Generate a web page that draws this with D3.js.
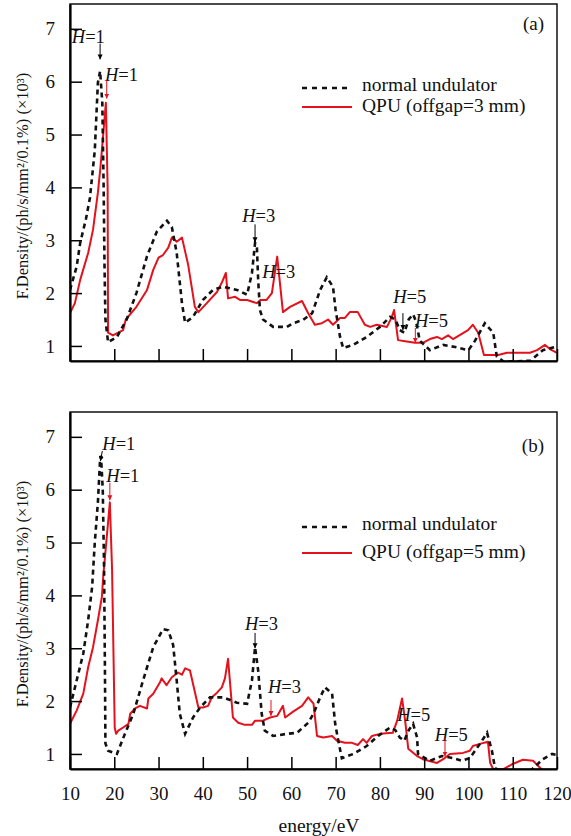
<!DOCTYPE html>
<html>
<head>
<meta charset="utf-8">
<script src="https://cdn.jsdelivr.net/npm/d3@7"></script>
<style>
  body { margin: 0; background: #fff; }
</style>
</head>
<body>
<script>
const W = 571, H = 836;
const FONT = "Liberation Serif";

// energy (eV) vs flux density (x10^3)
const normalA = [[10,2.06],[11.5,2.5],[12.3,2.95],[13.6,3.4],[14.5,3.8],[15.6,4.7],[16.3,5.98],[16.8,6.2],[17.3,5.6],[17.6,4.0],[17.8,2.5],[18.0,1.5],[18.6,1.07],[20.6,1.17],[22.8,1.5],[25,2.0],[27.4,2.7],[29.6,3.16],[31.9,3.37],[33,3.25],[34.1,2.76],[35.3,1.8],[36,1.44],[37.8,1.55],[40,1.87],[42.3,2.06],[44.6,2.12],[47.7,2.06],[50,1.97],[51.1,2.38],[51.8,2.95],[52.2,2.9],[52.5,2.25],[52.9,1.68],[53.6,1.5],[55.9,1.36],[59,1.36],[60.4,1.43],[62.6,1.49],[64.7,1.62],[66.5,2.06],[68,2.3],[69.4,2.12],[70,1.68],[71,1.17],[71.7,0.96],[74,1.02],[77,1.17],[80,1.36],[82.3,1.55],[83.5,1.5],[84.5,1.3],[85.5,1.25],[86.5,1.5],[87.5,1.6],[88.2,1.45],[89,1.1],[91.3,0.92],[94.3,1.02],[97,0.98],[100,0.92],[101.5,1.1],[103.7,1.43],[105.6,1.25],[106.4,0.8],[108,0.7],[114,0.72],[116.8,0.92],[119.5,0.98],[120,0.95]];

const qpuA = [[10,1.62],[11.1,1.81],[12.3,2.25],[14.1,2.76],[15.2,3.2],[16.3,3.9],[16.9,4.4],[17.9,5.4],[18.1,5.6],[18.5,4.0],[18.6,1.25],[19.7,1.2],[22,1.3],[22.6,1.5],[25,1.74],[27.4,2.06],[28.8,2.44],[30,2.67],[31,2.72],[32.2,2.86],[33,3.05],[34.1,2.97],[35.3,3.05],[36.7,2.53],[38.2,1.74],[39,1.64],[40.9,1.81],[43.2,2.02],[44.3,2.2],[45.2,2.38],[45.7,1.9],[47.3,1.93],[48.4,1.87],[50,1.87],[52.2,1.81],[53,1.87],[54.4,1.87],[55.6,2.0],[56.8,2.69],[58.1,1.64],[59.7,1.74],[62.4,1.85],[63.8,1.62],[65.3,1.4],[66.9,1.43],[68.3,1.5],[69.4,1.4],[71,1.53],[72.1,1.53],[73.2,1.64],[75,1.64],[76.6,1.4],[77.8,1.36],[79.3,1.4],[81.6,1.36],[82.7,1.55],[83.2,1.68],[84.1,1.11],[85.7,1.09],[87.9,1.06],[89.7,1.06],[91.3,1.13],[92.9,1.17],[94,1.13],[95.4,1.2],[96.5,1.13],[98.5,1.23],[99.9,1.3],[101,1.4],[102.2,1.25],[103.5,0.83],[106.7,0.83],[108.7,0.87],[113.9,0.87],[115.5,0.92],[117.3,1.02],[118.4,0.94],[120,0.87]];

const normalB = [[10,1.88],[11.5,2.39],[13,2.9],[14.1,3.53],[15,4.16],[15.6,5.0],[16.3,5.76],[16.8,6.58],[17,6.64],[17.4,6.0],[17.7,4.5],[17.9,2.5],[18.0,1.2],[18.6,1.06],[20.6,1.0],[22.4,1.38],[24.3,1.76],[26.5,2.39],[28.8,3.02],[31,3.36],[32.2,3.34],[33.3,3.06],[34.1,2.39],[34.8,1.76],[36,1.38],[37.8,1.69],[39.4,1.88],[41.6,2.07],[44.6,2.07],[47.7,1.97],[50,1.95],[51.1,2.39],[51.8,3.02],[52.5,2.58],[53.3,1.76],[54,1.44],[55.9,1.34],[59,1.38],[61.3,1.4],[63.8,1.59],[65,1.76],[66.5,2.07],[67.6,2.26],[69.2,2.14],[69.9,1.57],[70.6,1.25],[71.4,0.92],[74,1.0],[77,1.15],[79.6,1.34],[82.3,1.5],[83.5,1.45],[84.5,1.31],[85.5,1.25],[86.5,1.45],[87.5,1.57],[88.4,1.31],[88.6,1.0],[91.3,0.87],[94,0.96],[96.5,0.92],[98.5,0.87],[100.3,0.92],[102.6,1.19],[104.2,1.4],[105.3,1.06],[106,0.73],[108,0.65],[114,0.68],[116.8,0.9],[118.9,1.0],[120,0.98]];

const qpuB = [[10,1.57],[11.5,1.82],[13,2.14],[14.1,2.64],[15.2,3.02],[16.3,3.53],[17.2,3.97],[17.5,4.35],[18.3,5.1],[19,5.76],[19.5,4.5],[19.8,3.0],[20.1,1.5],[20.4,1.38],[20.9,1.44],[22,1.5],[23.2,1.57],[23.6,1.76],[24.7,1.86],[25.8,1.91],[27.4,1.86],[27.7,2.05],[28.8,2.14],[30.3,2.35],[30.7,2.43],[31.8,2.3],[33,2.45],[34.4,2.54],[35.3,2.5],[36,2.62],[37.1,2.58],[39,1.88],[40,1.88],[41.2,1.91],[42,2.07],[43.2,2.16],[44.3,2.26],[45,2.43],[45.7,2.8],[46.8,1.69],[48,1.59],[49.5,1.55],[51.1,1.55],[51.8,1.63],[53.6,1.63],[55.2,1.69],[56.8,1.72],[58.1,1.91],[58.6,1.69],[60.4,1.8],[62.4,1.91],[63.8,2.07],[65,1.95],[65.8,1.34],[67.2,1.31],[69.2,1.34],[70.3,1.25],[72.1,1.21],[73.7,1.21],[75,1.17],[76.2,1.28],[77,1.21],[78.2,1.34],[80,1.38],[82.9,1.4],[83.9,1.63],[85,2.05],[85.7,1.63],[86.4,1.1],[88.4,0.96],[89.7,0.9],[92.9,0.83],[94.3,0.9],[95.8,1.0],[98.8,1.02],[100.3,1.06],[101,1.15],[102.6,1.19],[104.4,1.23],[104.9,0.83],[105.6,0.71],[107.8,0.71],[110,0.81],[112.3,0.89],[114.6,0.87],[116.5,0.71],[117.5,0.6]];

const xTicks = [10,20,30,40,50,60,70,80,90,100,110,120];
const yTicks = [1,2,3,4,5,6,7];

// harmonic labels: text anchor (E, F) and optional arrow [E0, F0, E1, F1]
const harmA = [
  {n: 1, c: "#000", tx: 10.4, ty: 6.73, a: [16.8, 6.72, 16.8, 6.42]},
  {n: 1, c: "red", tx: 17.9, ty: 6.01, a: [18.3, 6.04, 18.3, 5.68]},
  {n: 3, c: "#000", tx: 48.9, ty: 3.34, a: [51.8, 3.3, 51.8, 2.96]},
  {n: 3, c: "red", tx: 53.4, ty: 2.28, a: null},
  {n: 5, c: "#000", tx: 83.0, ty: 1.81, a: [85.2, 1.62, 85.2, 1.3]},
  {n: 5, c: "red", tx: 87.9, ty: 1.36, a: [88.0, 1.34, 88.0, 1.06]}
];
const harmB = [
  {n: 1, c: "#000", tx: 17.3, ty: 6.75, a: [17.3, 6.73, 16.85, 6.54]},
  {n: 1, c: "red", tx: 18.2, ty: 6.15, a: [19.0, 6.13, 19.0, 5.8]},
  {n: 3, c: "#000", tx: 49.5, ty: 3.35, a: [51.8, 3.29, 51.8, 3.0]},
  {n: 3, c: "red", tx: 54.7, ty: 2.155, a: [55.4, 2.02, 55.4, 1.72]},
  {n: 5, c: "#000", tx: 83.9, ty: 1.62, a: null},
  {n: 5, c: "red", tx: 92.4, ty: 1.24, a: [94.7, 1.3, 94.7, 0.95]}
];

const panels = [
  {top: 4, tag: "(a)", tagY: 30, normal: normalA, qpu: qpuA, harm: harmA, qpuName: "QPU (offgap=3 mm)", legY: [88, 107], labels: false},
  {top: 412, tag: "(b)", tagY: 452, normal: normalB, qpu: qpuB, harm: harmB, qpuName: "QPU (offgap=5 mm)", legY: [527, 553], labels: true}
];

const left = 70, right = 557, ph = 357;
const red = "#e3121c";

const svg = d3.select("body").append("svg")
  .attr("width", W).attr("height", H)
  .attr("font-family", FONT);

const defs = svg.append("defs");
[["arrB", "#000"], ["arrR", red]].forEach(([id, col]) => {
  defs.append("marker")
    .attr("id", id).attr("viewBox", "0 0 10 10")
    .attr("refX", 10).attr("refY", 5)
    .attr("markerWidth", 5).attr("markerHeight", 6)
    .attr("markerUnits", "userSpaceOnUse")
    .attr("orient", "auto")
    .append("path").attr("d", "M0,0L10,5L0,10Z").attr("fill", col);
});

const x = d3.scaleLinear().domain([10, 120]).range([left, right]);

panels.forEach((p, i) => {
  const y = d3.scaleLinear().domain([0.715, 7.47]).range([p.top + ph, p.top]);
  const g = svg.append("g");

  defs.append("clipPath").attr("id", "clip" + i)
    .append("rect").attr("x", left).attr("y", p.top)
    .attr("width", right - left).attr("height", ph);

  const line = d3.line().x(d => x(d[0])).y(d => y(d[1]));

  const plot = g.append("g").attr("clip-path", `url(#clip${i})`);
  plot.append("path").datum(p.qpu)
    .attr("d", line).attr("fill", "none")
    .attr("stroke", red).attr("stroke-width", 2).attr("stroke-linejoin", "round");
  plot.append("path").datum(p.normal)
    .attr("d", line).attr("fill", "none")
    .attr("stroke", "#111").attr("stroke-width", 2.6)
    .attr("stroke-dasharray", "5,4");

  // frame
  g.append("rect").attr("x", left).attr("y", p.top)
    .attr("width", right - left).attr("height", ph)
    .attr("fill", "none").attr("stroke", "#000").attr("stroke-width", 1.4);

  // axes, ticks pointing inward
  const xAxis = g.append("g").attr("transform", `translate(0,${p.top + ph})`)
    .call(d3.axisBottom(x).tickValues(xTicks).tickSizeInner(-12).tickSizeOuter(0).tickPadding(18)
      .tickFormat(p.labels ? d3.format("d") : ""));
  const yAxis = g.append("g").attr("transform", `translate(${left},0)`)
    .call(d3.axisLeft(y).tickValues(yTicks).tickSizeInner(-12).tickSizeOuter(0).tickPadding(15)
      .tickFormat(d3.format("d")));
  [xAxis, yAxis].forEach(a => {
    a.attr("font-family", FONT).attr("font-size", 19);
    a.select(".domain").attr("stroke-width", 2.2);
    a.selectAll(".tick line").attr("stroke-width", 1.5);
    a.selectAll(".tick text").attr("fill", "#111");
  });

  // y label
  g.append("text")
    .attr("transform", `translate(28,${p.top + 182}) rotate(-90)`)
    .attr("text-anchor", "middle").attr("font-size", 16.5).attr("fill", "#111")
    .text("F.Density/(ph/s/mm²/0.1%) (×10³)");

  // panel tag
  g.append("text").attr("x", 544).attr("y", p.tagY)
    .attr("text-anchor", "end").attr("font-size", 19).attr("fill", "#111").text(p.tag);

  // legend
  g.append("line").attr("x1", 302).attr("x2", 352).attr("y1", p.legY[0]).attr("y2", p.legY[0])
    .attr("stroke", "#111").attr("stroke-width", 2.4).attr("stroke-dasharray", "5,5");
  g.append("text").attr("x", 362).attr("y", p.legY[0] + 3)
    .attr("font-size", 19.5).attr("fill", "#111").text("normal undulator");
  g.append("line").attr("x1", 302).attr("x2", 352).attr("y1", p.legY[1]).attr("y2", p.legY[1])
    .attr("stroke", red).attr("stroke-width", 2);
  g.append("text").attr("x", 362).attr("y", p.legY[1] + 5)
    .attr("font-size", 19.5).attr("fill", "#111").text(p.qpuName);

  // harmonic annotations
  p.harm.forEach(h => {
    const t = g.append("text").attr("x", x(h.tx)).attr("y", y(h.ty))
      .attr("font-size", 18.5).attr("fill", "#111");
    t.append("tspan").attr("font-style", "italic").text("H");
    t.append("tspan").text("=" + h.n);
    if (h.a) {
      const col = h.c === "red" ? red : "#000";
      g.append("line")
        .attr("x1", x(h.a[0])).attr("y1", y(h.a[1]))
        .attr("x2", x(h.a[2])).attr("y2", y(h.a[3]))
        .attr("stroke", col).attr("stroke-width", 1)
        .attr("marker-end", h.c === "red" ? "url(#arrR)" : "url(#arrB)");
    }
  });
});

svg.append("text").attr("x", 319).attr("y", 832)
  .attr("text-anchor", "middle").attr("font-size", 19.5).attr("fill", "#111")
  .text("energy/eV");
</script>
</body>
</html>
